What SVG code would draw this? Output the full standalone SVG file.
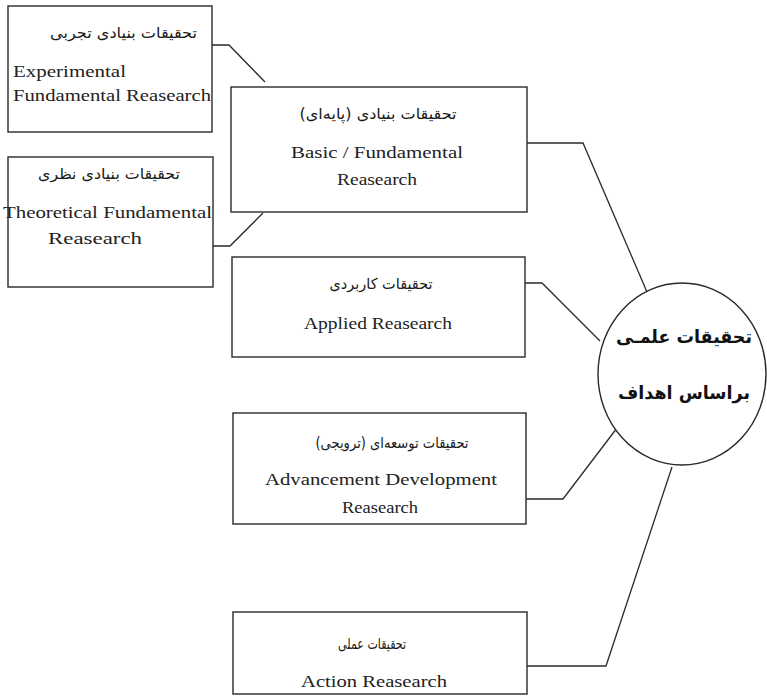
<svg xmlns="http://www.w3.org/2000/svg" width="767" height="696" viewBox="0 0 767 696">
<style>
.box{fill:#fff;stroke:#2a2a2a;stroke-width:1.4}
.con{fill:none;stroke:#2a2a2a;stroke-width:1.3}
.en{font-family:"Liberation Serif","Times New Roman",serif;font-size:17px;fill:#222}
.fa{font-family:"DejaVu Sans",sans-serif;font-size:15px;fill:#1a1a1a}
.fab{font-family:"DejaVu Sans",sans-serif;font-size:18px;font-weight:bold;fill:#111}
</style>
<rect width="767" height="696" fill="#fff"/>
<g id="connectors">
<polyline class="con" points="212,45 229,45 265,82"/>
<polyline class="con" points="213,246 230,246 263,213"/>
<polyline class="con" points="527,143 583,143 647,292"/>
<polyline class="con" points="525,283 542,283 600,341"/>
<polyline class="con" points="526,499 563,499 617,428"/>
<polyline class="con" points="527,666 606,666 672,467"/>
</g>
<g id="experimental">
<rect class="box" x="8" y="6" width="204" height="126"/>
<text class="fa" x="123.5" y="38" text-anchor="middle" textLength="147" lengthAdjust="spacingAndGlyphs">تحقیقات بنیادی تجربی</text>
<text class="en" x="13" y="77" textLength="113" lengthAdjust="spacingAndGlyphs">Experimental</text>
<text class="en" x="13" y="101" textLength="198" lengthAdjust="spacingAndGlyphs">Fundamental Reasearch</text>
</g>
<g id="theoretical">
<rect class="box" x="8" y="157" width="205" height="130"/>
<text class="fa" x="109" y="179" text-anchor="middle" textLength="142" lengthAdjust="spacingAndGlyphs">تحقیقات بنیادی نظری</text>
<text class="en" x="3" y="218" textLength="209" lengthAdjust="spacingAndGlyphs">Theoretical Fundamental</text>
<text class="en" x="95" y="244" text-anchor="middle" textLength="94" lengthAdjust="spacingAndGlyphs">Reasearch</text>
</g>
<g id="basic">
<rect class="box" x="231" y="87" width="296" height="125"/>
<text class="fa" x="378" y="119" text-anchor="middle" textLength="157" lengthAdjust="spacingAndGlyphs">تحقیقات بنیادی (پایه‌ای)</text>
<text class="en" x="377" y="158" text-anchor="middle" textLength="172" lengthAdjust="spacingAndGlyphs">Basic / Fundamental</text>
<text class="en" x="377" y="185" text-anchor="middle" textLength="80" lengthAdjust="spacingAndGlyphs">Reasearch</text>
</g>
<g id="applied">
<rect class="box" x="232" y="257" width="293" height="100"/>
<text class="fa" x="381" y="289" text-anchor="middle" textLength="103" lengthAdjust="spacingAndGlyphs">تحقیقات کاربردی</text>
<text class="en" x="378" y="329" text-anchor="middle" textLength="148" lengthAdjust="spacingAndGlyphs">Applied Reasearch</text>
</g>
<g id="advancement">
<rect class="box" x="233" y="413" width="293" height="111"/>
<text class="fa" x="392" y="448" text-anchor="middle" textLength="153" lengthAdjust="spacingAndGlyphs">تحقیقات توسعه‌ای (ترویجی)</text>
<text class="en" x="381" y="485" text-anchor="middle" textLength="232" lengthAdjust="spacingAndGlyphs">Advancement Development</text>
<text class="en" x="380" y="513" text-anchor="middle" textLength="76" lengthAdjust="spacingAndGlyphs">Reasearch</text>
</g>
<g id="action">
<rect class="box" x="233" y="612" width="294" height="82"/>
<text class="fa" x="372" y="649" text-anchor="middle" textLength="68" lengthAdjust="spacingAndGlyphs">تحقیقات عملی</text>
<text class="en" x="374" y="687" text-anchor="middle" textLength="146" lengthAdjust="spacingAndGlyphs">Action Reasearch</text>
</g>
<g id="center">
<ellipse cx="682" cy="374" rx="84" ry="91" fill="#fff" stroke="#2a2a2a" stroke-width="1.4"/>
<text class="fab" x="684" y="343" text-anchor="middle" textLength="136" lengthAdjust="spacingAndGlyphs">تحقیقات علمـی</text>
<text class="fab" x="684" y="399" text-anchor="middle" textLength="132" lengthAdjust="spacingAndGlyphs">براساس اهداف</text>
</g>
</svg>
